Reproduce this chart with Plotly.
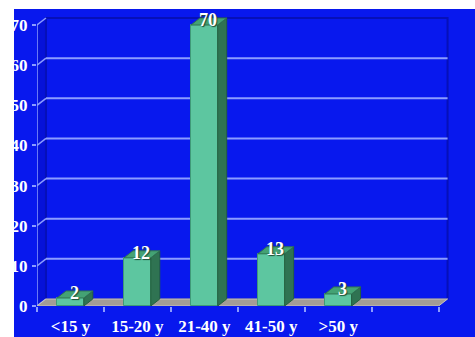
import plotly.graph_objects as go

# ---- data ----
age_groups = ["<15 y", "15-20 y", "21-40 y", "41-50 y", ">50 y"]
counts = [2, 12, 70, 13, 3]
y_ticks = [0, 10, 20, 30, 40, 50, 60, 70]

# ---- geometry / style ----
W, H = 475, 337
ML, MR, MT, MB = 37, 23, 15, 31
X_RANGE = [-0.5, 5.7]
Y_RANGE = [0, 72.5]
N_SLOTS = 6                  # one empty slot on the right of the floor
DX, DY = 0.134, 1.75         # depth offset of the pseudo-3D box (data units)
BAR_W = 0.40

BG = "#0818ee"
WALL_LEFT = "#0612d8"
WALL_EDGE = "#0610b8"
GRID = "#8c9cff"
FLOOR = "#a39c96"
FRONT = "#5dc6a0"
SIDE = "#2f7352"
TOP = "#44a274"
WHITE = "#ffffff"
FONT = dict(family="Liberation Serif, Times New Roman, serif", color=WHITE, weight="bold")

x_pos = list(range(len(age_groups)))
x_left_edge = X_RANGE[0]
x_right_edge = X_RANGE[0] + N_SLOTS
y_top = y_ticks[-1]

fig = go.Figure()
shapes = []

# left side wall
shapes.append(dict(type="path", layer="below", xref="x", yref="y",
                   path=f"M {x_left_edge},0 L {x_left_edge + DX},{DY} L {x_left_edge + DX},{y_top + DY} "
                        f"L {x_left_edge},{y_top} Z",
                   fillcolor=WALL_LEFT, line=dict(width=0)))
# back wall outline
shapes.append(dict(type="rect", layer="below", xref="x", yref="y",
                   x0=x_left_edge + DX, x1=x_right_edge + DX, y0=DY, y1=y_top + DY,
                   fillcolor=BG, line=dict(color=WALL_EDGE, width=2)))
# grid lines on the back wall and their slants on the side wall
for t in y_ticks[1:-1]:
    shapes.append(dict(type="line", layer="below", xref="x", yref="y",
                       x0=x_left_edge + DX, x1=x_right_edge + DX, y0=t + DY, y1=t + DY,
                       line=dict(color=GRID, width=2)))
for t in y_ticks:
    shapes.append(dict(type="line", layer="below", xref="x", yref="y",
                       x0=x_left_edge, x1=x_left_edge + DX, y0=t, y1=t + DY,
                       line=dict(color=GRID, width=1.5)))
# front vertical axis line
shapes.append(dict(type="line", layer="below", xref="x", yref="y",
                   x0=x_left_edge, x1=x_left_edge, y0=0, y1=y_top,
                   line=dict(color=GRID, width=1.5)))
# floor
shapes.append(dict(type="path", layer="below", xref="x", yref="y",
                   path=f"M {x_left_edge},0 L {x_right_edge},0 L {x_right_edge + DX},{DY} "
                        f"L {x_left_edge + DX},{DY} Z",
                   fillcolor=FLOOR, line=dict(color="#c8c4c0", width=1)))

# front faces of the bars
fig.add_trace(go.Bar(x=x_pos, y=counts, width=BAR_W,
                     marker=dict(color=FRONT, line=dict(color="#3f9a78", width=1)),
                     hoverinfo="skip", showlegend=False))

# side and top faces
for x, v in zip(x_pos, counts):
    xl, xr = x - BAR_W / 2, x + BAR_W / 2
    fig.add_trace(go.Scatter(x=[xr, xr + DX, xr + DX, xr, xr], y=[0, DY, v + DY, v, 0],
                             mode="lines", fill="toself", fillcolor=SIDE,
                             line=dict(color="#25603f", width=1),
                             hoverinfo="skip", showlegend=False))
    fig.add_trace(go.Scatter(x=[xl, xr, xr + DX, xl + DX, xl], y=[v, v, v + DY, v + DY, v],
                             mode="lines", fill="toself", fillcolor=TOP,
                             line=dict(color="#2f7352", width=1),
                             hoverinfo="skip", showlegend=False))

# value labels on the bar tops
annotations = []
for x, v in zip(x_pos, counts):
    annotations.append(dict(x=x + 0.06, y=v + 1.3, xref="x", yref="y", text=str(v),
                            showarrow=False, xanchor="center", yanchor="middle",
                            font=dict(**FONT, size=18, shadow="1px 1px 1px #1d4a34")))

# the white margin strips on the left and top edges
pw, ph = W - ML - MR, H - MT - MB
def px_x(p):
    return (p - ML) / pw
def px_y(p):
    return (H - MB - p) / ph
shapes.append(dict(type="rect", layer="above", xref="paper", yref="paper",
                   x0=px_x(-2), x1=px_x(14), y0=px_y(H + 2), y1=px_y(-2),
                   fillcolor=WHITE, line=dict(width=0)))
shapes.append(dict(type="rect", layer="above", xref="paper", yref="paper",
                   x0=px_x(-2), x1=px_x(W + 2), y0=px_y(9), y1=px_y(-2),
                   fillcolor=WHITE, line=dict(width=0)))

fig.update_layout(
    width=W, height=H,
    margin=dict(l=ML, r=MR, t=MT, b=MB, pad=0, autoexpand=False),
    paper_bgcolor=BG, plot_bgcolor=BG,
    shapes=shapes, annotations=annotations,
    bargap=0,
    xaxis=dict(range=X_RANGE, showgrid=False, zeroline=False, showline=False, automargin=False,
               tickmode="array", tickvals=x_pos, ticktext=age_groups, ticks="",
               ticklabelstandoff=8, tickfont=dict(**FONT, size=17),
               minor=dict(tickmode="array", tickvals=[x_left_edge + i for i in range(N_SLOTS + 1)],
                          ticks="outside", ticklen=5, tickcolor=GRID, tickwidth=1.5, showgrid=False),
               fixedrange=True),
    yaxis=dict(range=Y_RANGE, showgrid=False, zeroline=False, showline=False, automargin=False,
               tickmode="array", tickvals=y_ticks, ticks="outside", ticklen=4,
               tickcolor=GRID, tickwidth=1.5, ticklabelstandoff=1,
               tickfont=dict(**FONT, size=17), fixedrange=True),
)

fig.write_html("out.html")
